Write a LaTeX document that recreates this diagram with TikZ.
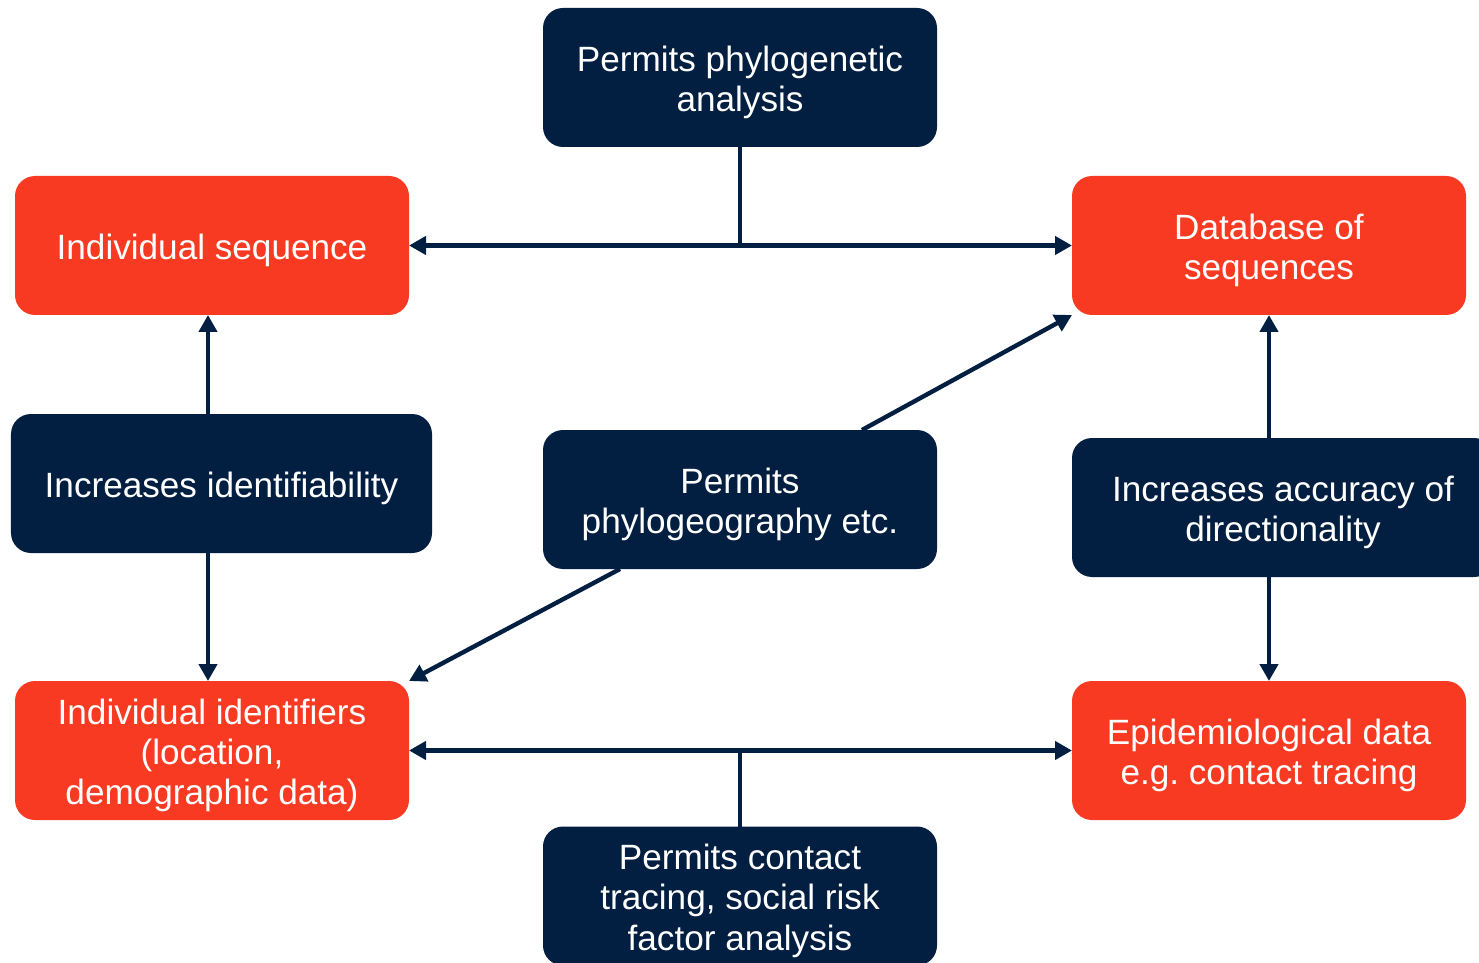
\documentclass[tikz,border=0pt]{standalone}
\usepackage{fontspec}
\setmainfont{Liberation Sans}
\frenchspacing
\usetikzlibrary{arrows.meta}

\definecolor{navy}{RGB}{2,31,65}
\definecolor{brick}{RGB}{249,58,34}

% taller first line, pushes the text down a little as in slides
\newcommand{\tstrut}{\rule{0pt}{20pt}}

\tikzset{
    box/.style={rounded corners=0.4cm, minimum width=7.88cm, minimum height=2.78cm,
        align=center, text=white, outer sep=0pt, inner sep=2pt,
        font=\fontsize{20}{23}\selectfont},
    darkbox/.style={box, fill=navy},
    redbox/.style={box, fill=brick},
    link/.style={draw=navy, line width=2.5pt},
    arrow/.style={link, -{Triangle[length=0.34cm, width=0.36cm]}},
    twoway/.style={link, {Triangle[length=0.34cm, width=0.36cm]}-{Triangle[length=0.34cm, width=0.36cm]}}
}

\begin{document}
\begin{tikzpicture}
    \useasboundingbox (0,0) rectangle (29.58,-19.26);

    % Data boxes
    \node [redbox] (indseq) at (4.24,-4.91) {\tstrut Individual sequence};
    \node [redbox] (dbseq) at (25.38,-4.91) {\tstrut Database of\\sequences};
    \node [redbox] (indid) at (4.24,-15.01) {\tstrut Individual identifiers\\(location,\\demographic data)};
    \node [redbox] (epi) at (25.38,-15.01) {\tstrut Epidemiological data\\e.g. contact tracing};

    % What each link permits
    \node [darkbox] (phylo) at (14.8,-1.55) {\tstrut Permits phylogenetic\\analysis};
    \node [darkbox, minimum width=8.42cm] (ident) at (4.43,-9.67) {\tstrut Increases identifiability};
    \node [darkbox] (geo) at (14.8,-9.99) {\tstrut Permits\\phylogeography etc.};
    \node [darkbox, minimum width=8.44cm] (acc) at (25.66,-10.15) {\tstrut Increases accuracy of\\directionality};
    \node [darkbox] (contact) at (14.8,-17.92) {\tstrut Permits contact\\tracing, social risk\\factor analysis};

    % Top row
    \draw [twoway] (indseq.east) -- (dbseq.west);
    \draw [link] (phylo.south) -- (phylo.south |- indseq.east);

    % Left column
    \draw [arrow] ([xshift=-0.08cm]ident.north -| indseq.south) -- ([xshift=-0.08cm]indseq.south);
    \draw [arrow] ([xshift=-0.08cm]ident.south -| indid.north) -- ([xshift=-0.08cm]indid.north);

    % Diagonal
    \draw [arrow] ([xshift=2.44cm]geo.north) -- (dbseq.south west);
    \draw [arrow] ([xshift=-2.4cm]geo.south) -- (indid.north east);

    % Right column
    \draw [arrow] (acc.north -| dbseq.south) -- (dbseq.south);
    \draw [arrow] (acc.south -| epi.north) -- (epi.north);

    % Bottom row
    \draw [twoway] (indid.east) -- (epi.west);
    \draw [link] (contact.north) -- (contact.north |- indid.east);

\end{tikzpicture}
\end{document}
